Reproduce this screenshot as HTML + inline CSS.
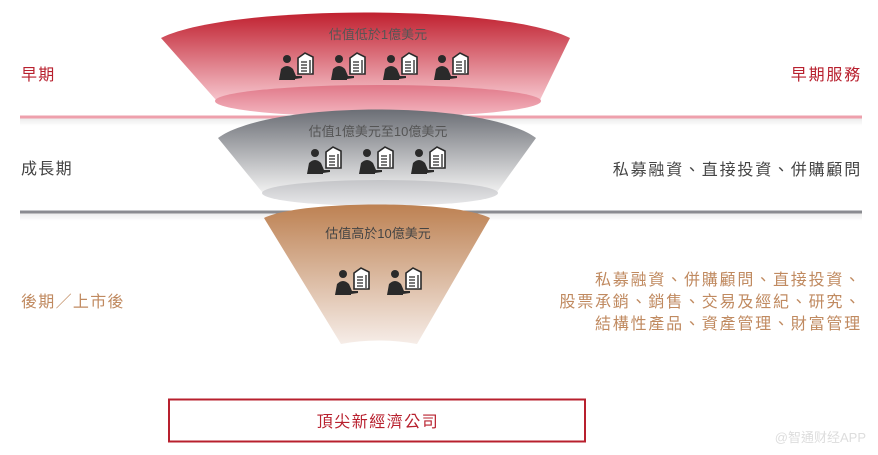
<!DOCTYPE html>
<html><head><meta charset="utf-8"><style>
html,body{margin:0;padding:0;background:#fff;}
svg{display:block;}
text{font-family:"Liberation Sans","Noto Sans CJK TC",sans-serif;}
</style></head><body>
<svg width="878" height="455" viewBox="0 0 878 455" xmlns="http://www.w3.org/2000/svg">
<defs>
<linearGradient id="gr" x1="0" y1="0" x2="0" y2="1">
<stop offset="0" stop-color="#c0202f"/><stop offset="1" stop-color="#f6c4cc"/></linearGradient>
<linearGradient id="gre" x1="0" y1="0" x2="0" y2="1">
<stop offset="0" stop-color="#e07888"/><stop offset="1" stop-color="#f4b8c2"/></linearGradient>
<linearGradient id="gg" x1="0" y1="0" x2="0" y2="1">
<stop offset="0" stop-color="#6b6e75"/><stop offset="1" stop-color="#f0f0f0"/></linearGradient>
<linearGradient id="gge" x1="0" y1="0" x2="0" y2="1">
<stop offset="0" stop-color="#c4c5c8"/><stop offset="1" stop-color="#e8e8ea"/></linearGradient>
<linearGradient id="gb" x1="0" y1="0" x2="0" y2="1">
<stop offset="0" stop-color="#bd8152"/><stop offset="1" stop-color="#f6ede8"/></linearGradient>
<linearGradient id="sh" x1="0" y1="0" x2="0" y2="1">
<stop offset="0" stop-color="#000" stop-opacity="0.08"/><stop offset="1" stop-color="#000" stop-opacity="0"/></linearGradient>
</defs>

<rect x="20" y="118" width="842" height="8" fill="url(#sh)"/>
<rect x="20" y="213" width="842" height="8" fill="url(#sh)"/>
<rect x="20" y="115.5" width="842" height="3" fill="#eea0ac"/>
<rect x="20" y="210.5" width="842" height="3" fill="#8a8b90"/>

<path d="M161,38 C230,4 500,4 570,38 L540,100 L216,100 Z" fill="url(#gr)"/>
<ellipse cx="378" cy="101" rx="163" ry="16" fill="url(#gre)"/>

<path d="M218,138 C270,100 485,100 536,138 L497,192 L262,192 Z" fill="url(#gg)"/>
<ellipse cx="380" cy="193" rx="118" ry="13" fill="url(#gge)"/>

<path d="M264,218 C300,200 455,200 490,218 L417,344 Q378,337 341,344 Z" fill="url(#gb)"/>

<text x="378" y="39" font-size="13" fill="#555" text-anchor="middle">估值低於1億美元</text>
<text x="378" y="136" font-size="13" fill="#555" text-anchor="middle">估值1億美元至10億美元</text>
<text x="378" y="238" font-size="13" fill="#444" text-anchor="middle">估值高於10億美元</text>

<g fill="#2a2a2a">
<g transform="translate(278,52)"><circle cx="9" cy="7" r="4"/><path d="M1,28 L3,17 Q9,11 15,17 L18,24 L24,24 L24,26 L17,27 L17,28 Z"/><path d="M20,6 L27,1 L35,5 L35,22 L20,22 Z" fill="#fff" stroke="#2a2a2a" stroke-width="1.6"/><path d="M23,10 H29 M23,13 H29 M23,16 H29 M23,19 H29 M32,8 V21" stroke="#2a2a2a" stroke-width="1.3"/></g>
<g transform="translate(330,52)"><circle cx="9" cy="7" r="4"/><path d="M1,28 L3,17 Q9,11 15,17 L18,24 L24,24 L24,26 L17,27 L17,28 Z"/><path d="M20,6 L27,1 L35,5 L35,22 L20,22 Z" fill="#fff" stroke="#2a2a2a" stroke-width="1.6"/><path d="M23,10 H29 M23,13 H29 M23,16 H29 M23,19 H29 M32,8 V21" stroke="#2a2a2a" stroke-width="1.3"/></g>
<g transform="translate(382,52)"><circle cx="9" cy="7" r="4"/><path d="M1,28 L3,17 Q9,11 15,17 L18,24 L24,24 L24,26 L17,27 L17,28 Z"/><path d="M20,6 L27,1 L35,5 L35,22 L20,22 Z" fill="#fff" stroke="#2a2a2a" stroke-width="1.6"/><path d="M23,10 H29 M23,13 H29 M23,16 H29 M23,19 H29 M32,8 V21" stroke="#2a2a2a" stroke-width="1.3"/></g>
<g transform="translate(433,52)"><circle cx="9" cy="7" r="4"/><path d="M1,28 L3,17 Q9,11 15,17 L18,24 L24,24 L24,26 L17,27 L17,28 Z"/><path d="M20,6 L27,1 L35,5 L35,22 L20,22 Z" fill="#fff" stroke="#2a2a2a" stroke-width="1.6"/><path d="M23,10 H29 M23,13 H29 M23,16 H29 M23,19 H29 M32,8 V21" stroke="#2a2a2a" stroke-width="1.3"/></g>
<g transform="translate(306,146)"><circle cx="9" cy="7" r="4"/><path d="M1,28 L3,17 Q9,11 15,17 L18,24 L24,24 L24,26 L17,27 L17,28 Z"/><path d="M20,6 L27,1 L35,5 L35,22 L20,22 Z" fill="#fff" stroke="#2a2a2a" stroke-width="1.6"/><path d="M23,10 H29 M23,13 H29 M23,16 H29 M23,19 H29 M32,8 V21" stroke="#2a2a2a" stroke-width="1.3"/></g>
<g transform="translate(358,146)"><circle cx="9" cy="7" r="4"/><path d="M1,28 L3,17 Q9,11 15,17 L18,24 L24,24 L24,26 L17,27 L17,28 Z"/><path d="M20,6 L27,1 L35,5 L35,22 L20,22 Z" fill="#fff" stroke="#2a2a2a" stroke-width="1.6"/><path d="M23,10 H29 M23,13 H29 M23,16 H29 M23,19 H29 M32,8 V21" stroke="#2a2a2a" stroke-width="1.3"/></g>
<g transform="translate(410,146)"><circle cx="9" cy="7" r="4"/><path d="M1,28 L3,17 Q9,11 15,17 L18,24 L24,24 L24,26 L17,27 L17,28 Z"/><path d="M20,6 L27,1 L35,5 L35,22 L20,22 Z" fill="#fff" stroke="#2a2a2a" stroke-width="1.6"/><path d="M23,10 H29 M23,13 H29 M23,16 H29 M23,19 H29 M32,8 V21" stroke="#2a2a2a" stroke-width="1.3"/></g>
<g transform="translate(334,267)"><circle cx="9" cy="7" r="4"/><path d="M1,28 L3,17 Q9,11 15,17 L18,24 L24,24 L24,26 L17,27 L17,28 Z"/><path d="M20,6 L27,1 L35,5 L35,22 L20,22 Z" fill="#fff" stroke="#2a2a2a" stroke-width="1.6"/><path d="M23,10 H29 M23,13 H29 M23,16 H29 M23,19 H29 M32,8 V21" stroke="#2a2a2a" stroke-width="1.3"/></g>
<g transform="translate(386,267)"><circle cx="9" cy="7" r="4"/><path d="M1,28 L3,17 Q9,11 15,17 L18,24 L24,24 L24,26 L17,27 L17,28 Z"/><path d="M20,6 L27,1 L35,5 L35,22 L20,22 Z" fill="#fff" stroke="#2a2a2a" stroke-width="1.6"/><path d="M23,10 H29 M23,13 H29 M23,16 H29 M23,19 H29 M32,8 V21" stroke="#2a2a2a" stroke-width="1.3"/></g>
</g>

<g font-size="16" letter-spacing="1.3">
<text x="21" y="80" fill="#b8202e">早期</text>
<text x="21" y="174" fill="#444">成長期</text>
<text x="21" y="307" fill="#c08a60">後期／上市後</text>
</g>

<g font-size="16" letter-spacing="1.8" text-anchor="end">
<text x="862" y="80" fill="#b8202e">早期服務</text>
<text x="862" y="175" fill="#444">私募融資、直接投資、併購顧問</text>
<g fill="#c08a60">
<text x="862" y="285">私募融資、併購顧問、直接投資、</text>
<text x="862" y="307">股票承銷、銷售、交易及經紀、研究、</text>
<text x="862" y="329">結構性產品、資產管理、財富管理</text>
</g>
</g>

<rect x="169" y="399.5" width="416" height="42" fill="#fff" stroke="#b8202e" stroke-width="2"/>
<text x="378" y="427" font-size="16" letter-spacing="1.5" fill="#b8202e" text-anchor="middle">頂尖新經濟公司</text>

<text x="866" y="442" font-size="13" fill="#ddd" text-anchor="end">@智通财经APP</text>
</svg>
</body></html>
